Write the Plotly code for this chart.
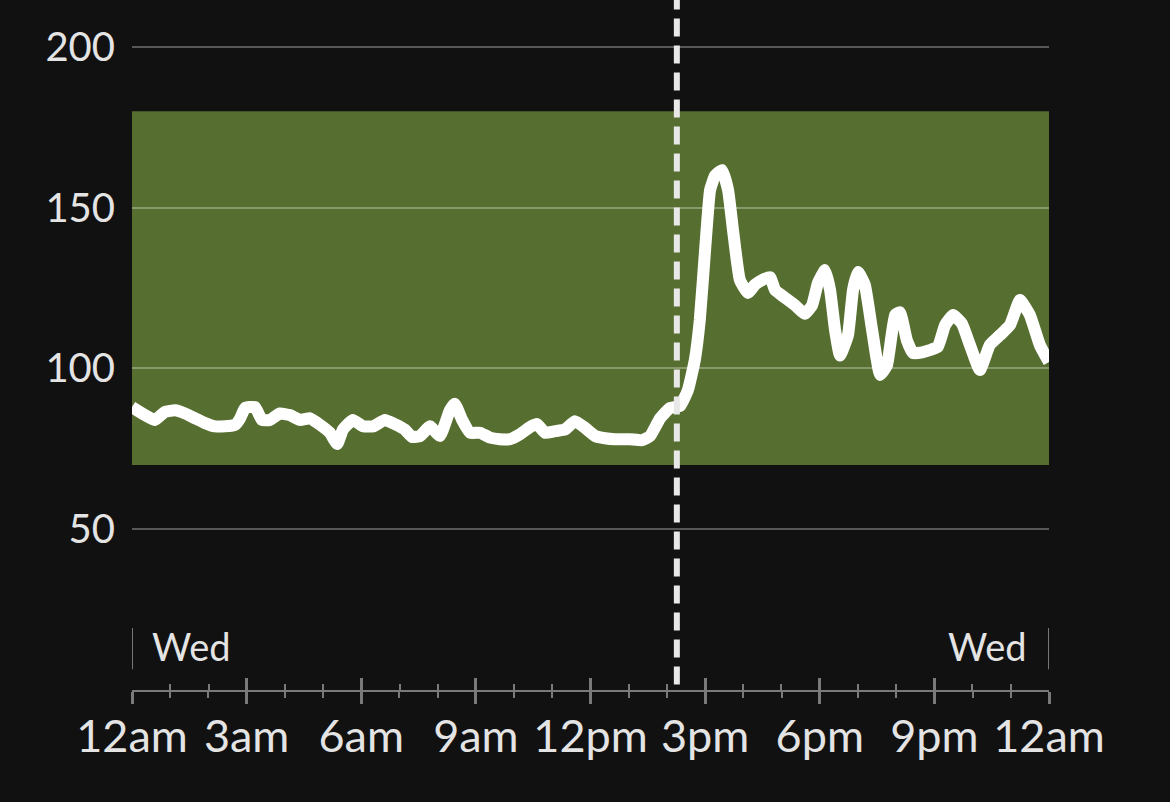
import plotly.graph_objects as go

# --- data (hours since midnight, glucose mg/dL) ---
hours = [0.00, 0.34, 0.60, 0.86, 1.13, 1.39, 1.65, 1.91, 2.17, 2.43, 2.70, 2.83, 2.96,
         3.22, 3.40, 3.61, 3.87, 4.13, 4.40, 4.66, 4.92, 5.18, 5.37, 5.52, 5.78, 6.05,
         6.31, 6.62, 6.88, 7.14, 7.33, 7.54, 7.80, 8.06, 8.32, 8.45, 8.64, 8.85, 9.11,
         9.37, 9.63, 9.89, 10.15, 10.42, 10.60, 10.81, 11.07, 11.33, 11.59, 11.86, 12.12,
         12.38, 12.64, 13.03, 13.35, 13.56, 13.82, 14.08, 14.34, 14.55, 14.73, 14.86,
         15.00, 15.13, 15.26, 15.44, 15.60, 15.73, 15.91, 16.12, 16.30, 16.49, 16.70,
         16.83, 17.09, 17.35, 17.61, 17.80, 17.95, 18.14, 18.27, 18.40, 18.53, 18.74,
         18.87, 19.00, 19.18, 19.37, 19.58, 19.76, 19.97, 20.10, 20.28, 20.44, 20.68,
         20.88, 21.09, 21.28, 21.49, 21.72, 21.93, 22.19, 22.45, 22.72, 22.98, 23.24,
         23.50, 23.76, 24.00]
glucose = [88, 85.5, 84, 86.5, 87, 86, 84.5, 83, 82, 82, 82.5, 84.5, 87.7,
           88, 84, 84, 86, 85.5, 84, 84.5, 82.5, 80, 76.5, 81, 84, 82,
           82, 84, 82.7, 81, 78.7, 79, 82, 79, 87, 89, 84, 80, 80,
           78.5, 78, 78, 79.5, 81.8, 82.7, 80, 80.5, 81, 83.6, 81.5, 79,
           78.3, 78, 78, 77.7, 79, 84.5, 87.7, 88.3, 93.3, 102.6, 115,
           137, 155.5, 160, 161.7, 155.5, 143, 127.5, 123.5, 126, 127.5, 128.4,
           124.4, 122, 119.7, 117, 119.7, 126.5, 130.6, 124.4, 112, 104, 110.4,
           124.4, 130, 126, 112, 98, 101, 116.6, 117.5, 108.8, 104.8, 105,
           105.7, 106.7, 113.5, 116.6, 114, 107.3, 99.5, 107.3, 110.4, 113.5, 121.3,
           116.6, 107.3, 102]

target_low = 70
target_high = 180
now_hour = 14.26

tick_hours = [0, 3, 6, 9, 12, 15, 18, 21, 24]
tick_labels = ["12am", "3am", "6am", "9am", "12pm", "3pm", "6pm", "9pm", "12am"]
minor_hours = list(range(25))
y_ticks = [50, 100, 150, 200]
day_label = "Wed"

BG = "#111111"
GREEN = "#566e30"
AXIS = "#7a7a7a"
TXT = "#e4e4e4"
FONT = "Lato"

fig = go.Figure()
fig.add_trace(go.Scatter(x=hours, y=glucose, mode="lines",
                         line=dict(color="white", width=12, shape="spline", smoothing=0.4),
                         hoverinfo="skip", showlegend=False))
# invisible helper trace so the overlay axis (upper half of the ticks) is rendered
fig.add_trace(go.Scatter(x=[tick_hours[0], tick_hours[-1]], y=[target_low, target_low],
                         xaxis="x2", mode="markers", marker=dict(opacity=0, size=1),
                         hoverinfo="skip", showlegend=False))

fig.add_shape(type="rect", xref="x", yref="y", x0=0, x1=24, y0=target_low, y1=target_high,
              fillcolor=GREEN, line=dict(width=0), layer="below")
fig.add_shape(type="line", xref="x", yref="paper", x0=now_hour, x1=now_hour, y0=0.008, y1=1,
              line=dict(color="#e8e8e8", width=6, dash="18px,9px"), layer="above")
for xv in (0, 24):
    fig.add_shape(type="line", xref="x", yref="paper", x0=xv, x1=xv, y0=0.030, y1=0.090,
                  line=dict(color="#9a9a9a", width=1.5))
fig.add_annotation(x=0, y=0.064, xref="x", yref="paper", text=day_label, showarrow=False,
                   xanchor="left", yanchor="middle", xshift=18,
                   font=dict(family=FONT, size=38, color=TXT))
fig.add_annotation(x=24, y=0.064, xref="x", yref="paper", text=day_label, showarrow=False,
                   xanchor="right", yanchor="middle", xshift=-20,
                   font=dict(family=FONT, size=38, color=TXT))

xcommon = dict(tickmode="array", tickvals=tick_hours,
               showgrid=False, zeroline=False, fixedrange=True)
fig.update_layout(
    width=1170, height=802,
    margin=dict(l=132, r=121, t=0, b=112),
    paper_bgcolor=BG, plot_bgcolor=BG,
    font=dict(family=FONT, color=TXT),
    xaxis=dict(**xcommon, range=[0, 24], ticktext=tick_labels, showline=True,
               linecolor=AXIS, linewidth=2,
               ticks="outside", ticklen=12, tickwidth=3, tickcolor=AXIS,
               ticklabelstandoff=-6,
               tickfont=dict(family=FONT, size=45, color=TXT),
               minor=dict(tickvals=minor_hours, ticks="outside", ticklen=6, tickwidth=2,
                          tickcolor=AXIS, showgrid=False)),
    xaxis2=dict(**xcommon, range=[-0.003, 24.003], overlaying="x", side="bottom", anchor="y",
                showticklabels=False, showline=False,
                ticks="inside", ticklen=12, tickwidth=3, tickcolor=AXIS,
                minor=dict(tickvals=minor_hours, ticks="inside", ticklen=6, tickwidth=2,
                           tickcolor=AXIS, showgrid=False)),
    yaxis=dict(range=[0, 214.6], tickmode="array", tickvals=y_ticks, showgrid=True,
               gridcolor="rgba(255,255,255,0.3)", gridwidth=1.5, zeroline=False,
               showline=False, ticks="", ticklabelstandoff=16,
               tickfont=dict(family=FONT, size=40, color=TXT), fixedrange=True),
)

fig.write_html("out.html", config={"displayModeBar": False},
               post_script="document.body.style.margin='0';"
                           "document.body.style.background='#111111';")
